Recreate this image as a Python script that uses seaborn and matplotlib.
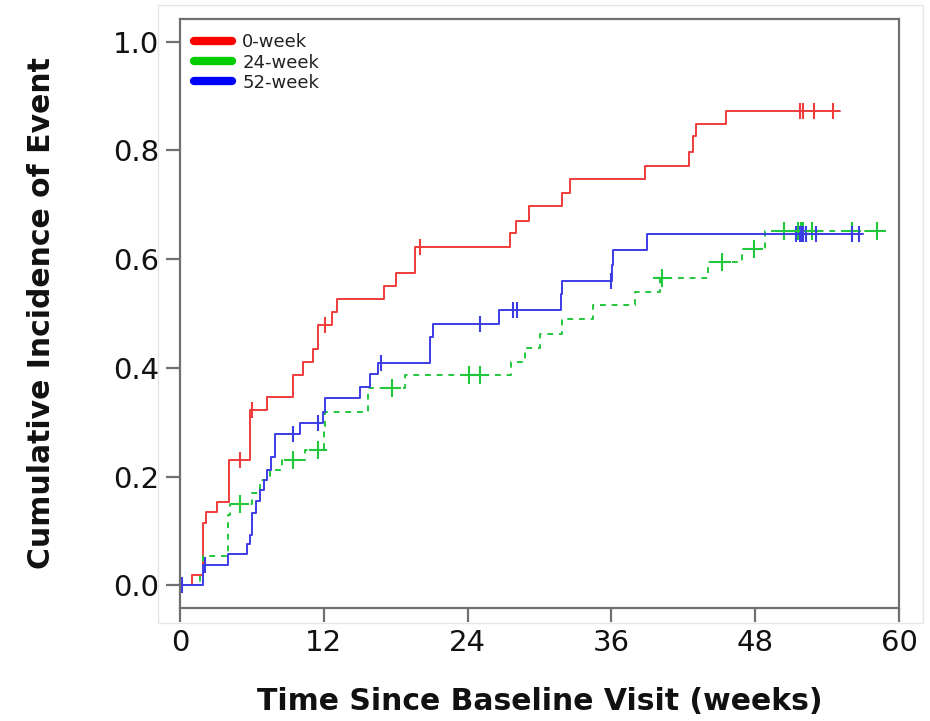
import numpy as np
import pandas as pd
import matplotlib
matplotlib.use("Agg")
import matplotlib.pyplot as plt
import seaborn as sns
from matplotlib.patches import Rectangle

# ---------------- data ----------------
groups = ["0-week", "24-week", "52-week"]

red_t = [0, 1.0, 1.95, 2.2, 3.1, 4.1, 5.85, 7.25, 9.4, 10.3, 11.1, 11.55, 12.7, 13.1,
         17.0, 18.0, 19.6, 27.5, 28.0, 29.1, 31.9, 32.55, 38.8, 42.5, 42.85, 43.1, 45.6, 55.1]
red_v = [0, 0.018, 0.114, 0.135, 0.153, 0.231, 0.322, 0.346, 0.387, 0.411, 0.434, 0.479, 0.503, 0.526,
         0.551, 0.575, 0.622, 0.648, 0.671, 0.697, 0.722, 0.747, 0.772, 0.798, 0.826, 0.849, 0.873, 0.873]
red_cens = [5.0, 6.0, 12.1, 20.0, 51.7, 52.0, 52.9, 54.5]

green_t = [0, 1.7, 1.95, 4.0, 4.2, 5.98, 6.7, 7.5, 8.5, 10.4, 12.0, 12.1, 15.7, 18.8,
           27.6, 28.8, 30.0, 31.9, 34.5, 38.0, 40.05, 44.1, 46.9, 48.8, 58.2]
green_v = [0, 0.018, 0.053, 0.129, 0.150, 0.169, 0.193, 0.212, 0.230, 0.249, 0.285, 0.319, 0.362, 0.387,
           0.411, 0.437, 0.463, 0.489, 0.516, 0.540, 0.566, 0.594, 0.618, 0.652, 0.652]
green_cens = [5.0, 9.45, 11.55, 17.7, 24.1, 25.0, 40.2, 45.2, 47.9, 50.4, 51.6, 51.8, 52.0,
              52.7, 56.1, 58.2]

blue_t = [0, 1.95, 4.03, 5.55, 5.85, 6.0, 6.35, 6.7, 7.0, 7.3, 7.6, 7.9, 10.05, 11.9, 12.1,
          15.0, 15.85, 16.55, 20.85, 21.15, 26.65, 31.8, 31.9, 36.05, 36.1, 38.95, 57.0]
blue_v = [0, 0.037, 0.058, 0.075, 0.092, 0.133, 0.155, 0.175, 0.193, 0.212, 0.236, 0.279, 0.299, 0.319, 0.345,
          0.365, 0.389, 0.409, 0.457, 0.481, 0.506, 0.535, 0.560, 0.589, 0.617, 0.646, 0.646]
blue_cens = [0.2, 2.05, 9.4, 11.55, 16.75, 25.05, 27.8, 28.15, 35.95, 51.4, 51.7, 51.9, 52.0,
             52.2, 53.1, 56.1, 56.7]

x_ticks = [0, 12, 24, 36, 48, 60]
y_ticks = [0.0, 0.2, 0.4, 0.6, 0.8, 1.0]
x_label = "Time Since Baseline Visit (weeks)"
y_label = "Cumulative Incidence of Event"

# ---------------- styling ----------------
line_colors = {"0-week": "#f03c3c", "24-week": "#22c83c", "52-week": "#3c3ce6"}
legend_colors = {"0-week": "#ff0000", "24-week": "#00cc00", "52-week": "#0000ff"}

sns.set_style("white")
plt.rcParams["font.family"] = ["DejaVu Sans"]

fig = plt.figure(figsize=(9.30, 7.21), dpi=100)
ax = fig.add_axes([180 / 930, 1 - 608 / 721, (899 - 180) / 930, (608 - 19) / 721])

# faint panel border like the reference
fig.patches.append(Rectangle((158 / 930, 1 - 623 / 721), (923 - 158) / 930, (623 - 5) / 721,
                             transform=fig.transFigure, fill=False, edgecolor="#e6e6e6",
                             linewidth=1.0, zorder=0))

series = [("0-week", red_t, red_v, red_cens, "-"),
          ("24-week", green_t, green_v, green_cens, (0, (3, 3))),
          ("52-week", blue_t, blue_v, blue_cens, "-")]

for name, t, v, cens, ls in series:
    df = pd.DataFrame({"time": t, "value": v})
    sns.lineplot(data=df, x="time", y="value", ax=ax, color=line_colors[name],
                 drawstyle="steps-post", estimator=None, sort=False, linewidth=1.4,
                 linestyle=ls, label=name)
    tt = np.array(t)
    vv = np.array(v)
    idx = np.searchsorted(tt, np.array(cens), side="right") - 1
    cdf = pd.DataFrame({"time": cens, "value": vv[idx]})
    marker = "+" if name == "24-week" else "|"
    sns.scatterplot(data=cdf, x="time", y="value", ax=ax, color=line_colors[name],
                    marker=marker, s=150 if marker == "+" else 130, linewidth=1.5, legend=False)

ax.set_xlim(0, 60)
ax.set_ylim(-0.042, 1.042)
ax.set_xticks(x_ticks)
ax.set_xticklabels([str(x) for x in x_ticks])
ax.set_yticks(y_ticks)
ax.set_yticklabels([f"{y:.1f}" for y in y_ticks])

for s in ax.spines.values():
    s.set_color("#707070")
    s.set_linewidth(1.6)
    s.set_visible(True)
ax.tick_params(axis="both", which="major", length=10, width=1.6, color="#707070",
               labelsize=21, labelcolor="#111111", pad=5, direction="out",
               bottom=True, left=True)

ax.set_xlabel(x_label, fontsize=21.5, fontweight="bold", labelpad=22, color="#111111")
ax.set_ylabel(y_label, fontsize=21.5, fontweight="bold", labelpad=41, color="#111111")

leg = ax.legend(loc="upper left", bbox_to_anchor=(0.0, 1.0), frameon=False, fontsize=13,
                handlelength=2.1, handletextpad=0.55, labelspacing=0.12, borderaxespad=0.4)
for line, text in zip(leg.get_lines(), leg.get_texts()):
    name = text.get_text()
    line.set_color(legend_colors[name])
    line.set_linewidth(6)
    line.set_linestyle("-")
    line.set_solid_capstyle("round")
    text.set_color("#222222")

fig.savefig("out.png", dpi=100, facecolor="white")
